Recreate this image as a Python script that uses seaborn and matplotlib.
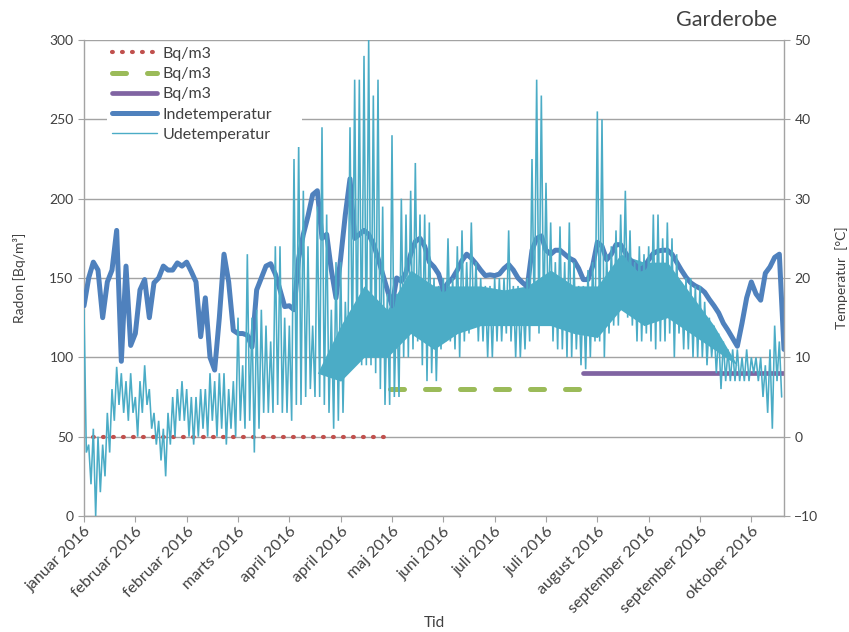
import numpy as np
import matplotlib
matplotlib.use("Agg")
import matplotlib.pyplot as plt
import seaborn as sns

# time axis in days from start of logging; temps sampled per 2-day block
n_days = 300
tick_step_days = 22
tick_labels = ["januar 2016", "februar 2016", "februar 2016", "marts 2016",
               "april 2016", "april 2016", "maj 2016", "juni 2016",
               "juli 2016", "juli 2016", "august 2016", "september 2016",
               "september 2016", "oktober 2016"]

# radon measurement periods [Bq/m3]
radon_start = [4, 131, 214]
radon_end = [129, 213, 300]
radon_level = [50, 80, 90]
radon_colors = ["#C0504D", "#9BBB59", "#8064A2"]

# indoor temperature, one value per 2 days [C]
inde_temp = [16.5, 20, 22, 21, 15, 19.5, 21, 26, 9.5, 21.5,
             11.5, 13, 18.5, 19.8, 15, 19.4, 20, 21.5, 21, 21,
             21.9, 21.5, 22, 20.8, 19.5, 12.6, 17.5, 10, 8.4, 15,
             23, 19.5, 13.4, 13, 13, 12.8, 11.3, 18.5, 20, 21.5,
             21.8, 20.5, 18.5, 16.4, 16.5, 16, 22.5, 25.5, 27.8, 30.5,
             31, 25, 25.5, 21, 17.5, 22.5, 28, 32.5, 25, 25.5,
             26, 25.5, 24.3, 22.5, 20.5, 18.5, 16.5, 20, 19.6, 20.7,
             23, 24.6, 25, 24, 22, 21.4, 20.5, 18.5, 19.4, 20,
             21, 22.2, 23, 22.5, 21.8, 21, 20.3, 20.4, 20.3, 20.5,
             21.2, 21.7, 21, 20, 19.4, 18.9, 23.5, 25, 25.3, 23.5,
             23, 23.5, 23.5, 23, 22.5, 22.2, 21.2, 19.8, 19.8, 21.5,
             24.5, 24, 22.3, 23, 24.2, 24.2, 23.2, 22.3, 21.7, 21.1,
             21.3, 22.3, 23.1, 23.4, 23.5, 23.5, 23, 22, 21, 20.1,
             19.4, 19, 18.7, 18.2, 17.3, 16.5, 15.6, 14.3, 13.4, 12.4,
             11.4, 14.3, 17.5, 19.5, 18, 17.2, 20.6, 21.4, 22.6, 23,
             11]

# outdoor temperature, max and min per 2-day block [C]
ude_max = [16, -1, 1, 0, -1, 3, 6, 8.8, 8, 7,
           8, 5, 7, 9, 6, 3, 2, 1, 3, 5,
           6, 7, 6, 5, 5, 6, 6, 8, 7, 8,
           8, 6, 7, 15, 9, 23, 15, 16, 16, 14,
           12, 24, 24, 15, 14, 35, 37, 31, 24, 14,
           29, 39, 28, 16, 22, 22, 17, 39, 45, 45,
           48, 50, 43, 45, 29, 18, 38, 18, 30, 28,
           31, 34.5, 28, 28, 27, 20, 19, 20, 25, 20,
           24, 26, 22, 27, 22, 20, 19, 19, 20, 20,
           20, 26, 19, 19, 18, 20, 35, 45, 43, 32,
           27, 22, 26.5, 22, 27, 22, 19, 19, 21, 22,
           41, 40, 23, 24, 26, 28, 31, 26, 22, 24,
           23, 24, 28, 28, 25, 27, 25, 23, 19.5, 20,
           20, 19, 19, 17, 15, 14, 13, 12, 11, 11,
           11, 10, 11, 10, 10, 10, 9, 11, 14, 12]
ude_min = [-2, -6, -10, -7, -5, -2, 2, 4, 3, 2,
           3, 0, 3, 4, 1, -1, -3, -5, -1, 0,
           2, 2, 0, -1, 0, 1, 0, 2, 0, 1,
           -1, 1, 0, 2, 1, 2, -2, 1, 3, 3,
           3, 4, 3, 3, 2, 4, 4, 5, 6, 5,
           5, 4, 3, 1, 2, 3, 8, 10, 10, 9,
           9, 9, 8, 6, 4, 4, 5, 5, 10, 10,
           11, 12, 9, 7, 8, 7, 11, 12, 12, 11,
           10, 12, 13, 14, 12, 12, 10, 10, 12, 12,
           13, 12, 10, 10, 11, 12, 14, 13, 14, 14,
           12, 11, 11, 10, 10, 11, 9, 8.5, 10, 12,
           12, 10, 13, 14, 14, 16, 15, 14, 12, 12,
           13, 12, 11, 12, 12, 13, 10, 13, 11, 11,
           10, 10, 10, 9, 10, 8, 6, 7, 7, 7,
           7, 7, 7, 8, 7, 5, 3, 1, 7, 5]

# dense core of the hourly outdoor readings, every 10 days from day 100 [C]
core_lo = [8, 7, 10, 10, 13, 11, 13, 14, 14, 14, 14, 13, 12.5, 16, 14, 15, 13, 11, 9]
core_hi = [8, 14, 19, 16, 21, 19, 19, 19, 18.5, 19, 21, 19, 19, 23, 22, 22, 18, 14, 9]
core_days = 100 + np.arange(len(core_lo)) * 10

inde_days = np.arange(len(inde_temp)) * 2
ude_days = np.arange(2 * len(ude_max))
ude_temp = np.column_stack([ude_max, ude_min]).ravel()

sns.set_style("white")
plt.rcParams["font.family"] = ["Lato", "DejaVu Sans"]
txt_col = "#404040"
grid_col = "#a3a3a3"
ude_col = "#4BACC6"

fig = plt.figure(figsize=(8.49, 6.32), dpi=100)
ax = fig.add_axes([84 / 849, 116 / 632, 700 / 849, 476 / 632])
ax2 = ax.twinx()

# radon levels on left axis
dash_styles = [(0.2, 2.2), (2.8, 4.2), None]
widths = [3.0, 3.6, 3.4]
for s, e, v, c, d, w in zip(radon_start, radon_end, radon_level, radon_colors, dash_styles, widths):
    sns.lineplot(x=[s, e], y=[v, v], ax=ax, color=c, linewidth=w, label="Bq/m3")
    ln = ax.get_lines()[-1]
    if d is not None:
        ln.set_dashes(d)
        ln.set_dash_capstyle("round")
    else:
        ln.set_solid_capstyle("round")

# temperatures on right axis
ax2.fill_between(core_days, core_lo, core_hi, color=ude_col, linewidth=0)
sns.lineplot(x=inde_days, y=inde_temp, ax=ax2, color="#4F81BD", linewidth=3.6,
             label="Indetemperatur")
ax2.get_lines()[-1].set_solid_joinstyle("round")
sns.lineplot(x=ude_days, y=ude_temp, ax=ax2, color=ude_col, linewidth=1.15,
             label="Udetemperatur")
ax2.get_lines()[-1].set_solid_joinstyle("miter")

ax.get_legend().remove()
handles = ax.get_lines() + ax2.get_lines()
labels = [h.get_label() for h in handles]
leg = ax2.legend(handles, labels, loc="upper left",
                 bbox_to_anchor=(0.033, 0.5, 0.279, 0.496), mode="expand",
                 borderaxespad=0, frameon=True, fancybox=False, framealpha=1,
                 facecolor="white", edgecolor="none", fontsize=11.5,
                 handlelength=2.8, handletextpad=0.38, labelspacing=0.38,
                 borderpad=0.3)
for t in leg.get_texts():
    t.set_color(txt_col)
leg.get_lines()[-1].set_linewidth(1.0)

ax.set_xlim(0, n_days)
ax.set_ylim(0, 300)
ax2.set_ylim(-10, 50)
ax.set_yticks(np.arange(0, 301, 50))
ax2.set_yticks(np.arange(-10, 51, 10))
ax.set_xticks(np.arange(len(tick_labels)) * tick_step_days)
ax.set_xticklabels(tick_labels, rotation=45, ha="right", rotation_mode="anchor")

ax.yaxis.grid(True, color=grid_col, linewidth=1.0)
ax.set_axisbelow(True)

for a in (ax, ax2):
    for sp in a.spines.values():
        sp.set_visible(False)
ax.spines["left"].set_visible(True)
ax.spines["bottom"].set_visible(True)
ax2.spines["right"].set_visible(True)
for sp in (ax.spines["left"], ax.spines["bottom"], ax2.spines["right"]):
    sp.set_color(grid_col)
    sp.set_linewidth(1.0)

ax.tick_params(axis="both", direction="out", length=4, color=grid_col,
               labelsize=10, labelcolor=txt_col, left=True, bottom=True)
ax.tick_params(axis="x", pad=2, labelsize=11.5)
ax2.tick_params(axis="y", direction="out", length=4, color=grid_col,
                labelsize=10, labelcolor=txt_col, right=True)

ax.set_xlabel("Tid", fontsize=11, color=txt_col, labelpad=0)
ax.set_ylabel("Radon [Bq/m³]", fontsize=10, color=txt_col, labelpad=17)
ax2.set_ylabel("Temperatur  [°C]", fontsize=10, color=txt_col, labelpad=12)

fig.text(777 / 849, 1 - 20 / 632, "Garderobe", ha="right", va="center",
         fontsize=15.5, color=txt_col)

fig.savefig("out.png", dpi=100)
